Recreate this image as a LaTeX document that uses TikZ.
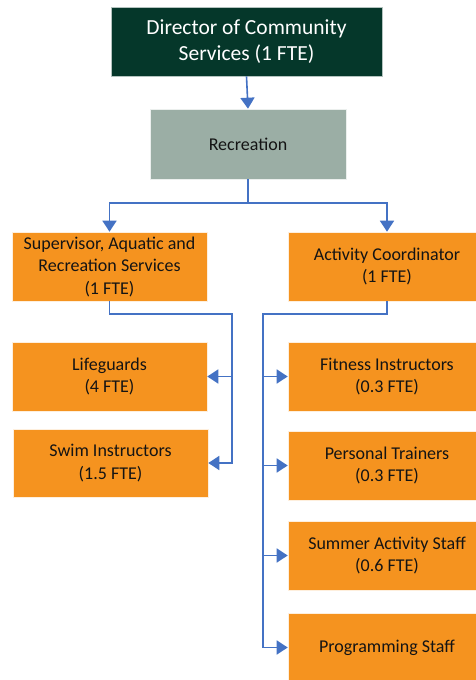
\documentclass[tikz,border=0pt]{standalone}
\usepackage{fontspec}
\setmainfont{Carlito}
\usetikzlibrary{arrows.meta}
\definecolor{dirgreen}{HTML}{05372A}
\definecolor{recgrey}{HTML}{9BAEA5}
\definecolor{boxorange}{HTML}{F5931F}
\definecolor{lineblue}{HTML}{4472C4}
\definecolor{txt}{HTML}{141414}
\tikzset{
  box/.style={draw=white!85!boxorange, line width=0.6pt, fill=boxorange, text=txt, align=center, inner sep=0pt,
    font=\fontsize{18}{22.5}\selectfont},
  conn/.style={draw=lineblue, line width=1.6pt},
  arr/.style={conn, -{Triangle[width=14pt,length=11pt]}},
}
\begin{document}
\begin{tikzpicture}[x=1pt,y=-1pt]
\useasboundingbox (0,0) rectangle (476,680);
\clip (0,0) rectangle (476,680);
\fill[white] (0,0) rectangle (476,680);
\node[box, fill=dirgreen, draw=white!70!dirgreen, text=white, minimum width=271pt, minimum height=69pt,
  font=\fontsize{21.5}{26}\selectfont] (dir) at (246.5,41.5) {Director of Community\\Services (1 FTE)};
\node[box, fill=recgrey, draw=white!80!recgrey, minimum width=196pt, minimum height=70pt] (rec) at (248,144) {Recreation};
\node[box, minimum width=195pt, minimum height=69pt] (sup) at (109.5,266.5) {Supervisor, Aquatic and\\Recreation Services\\(1 FTE)};
\node[box, minimum width=198pt, minimum height=69pt] (act) at (387,266.5) {Activity Coordinator\\(1 FTE)};
\node[box, minimum width=195pt, minimum height=69pt] (life) at (109.5,376.5) {Lifeguards\\(4 FTE)};
\node[box, minimum width=195pt, minimum height=68pt] (swim) at (110.5,463) {Swim Instructors\\(1.5 FTE)};
\node[box, minimum width=198pt, minimum height=69pt] (fit) at (387,376.5) {Fitness Instructors\\(0.3 FTE)};
\node[box, minimum width=198pt, minimum height=69pt] (pers) at (387,465.5) {Personal Trainers\\(0.3 FTE)};
\node[box, minimum width=198pt, minimum height=69pt] (summ) at (387,555.5) {Summer Activity Staff\\(0.6 FTE)};
\node[box, minimum width=198pt, minimum height=69pt] (prog) at (387,647.5) {Programming Staff};
\coordinate (rj) at (248,203);
\coordinate (sj) at (232,314);
\coordinate (aj) at (263,314);
\draw[arr] (dir.south) -- (rec.north);
\draw[arr] (rec.south) -- (rj) -| (sup.north);
\draw[arr] (rj) -| (act.north);
\draw[arr] (sup.south) |- (sj) |- (swim.east);
\draw[arr] (sj) |- (life.east);
\draw[arr] (act.south) |- (aj) |- (prog.west);
\draw[arr] (aj) |- (fit.west);
\draw[arr] (aj) |- (pers.west);
\draw[arr] (aj) |- (summ.west);
\end{tikzpicture}
\end{document}
